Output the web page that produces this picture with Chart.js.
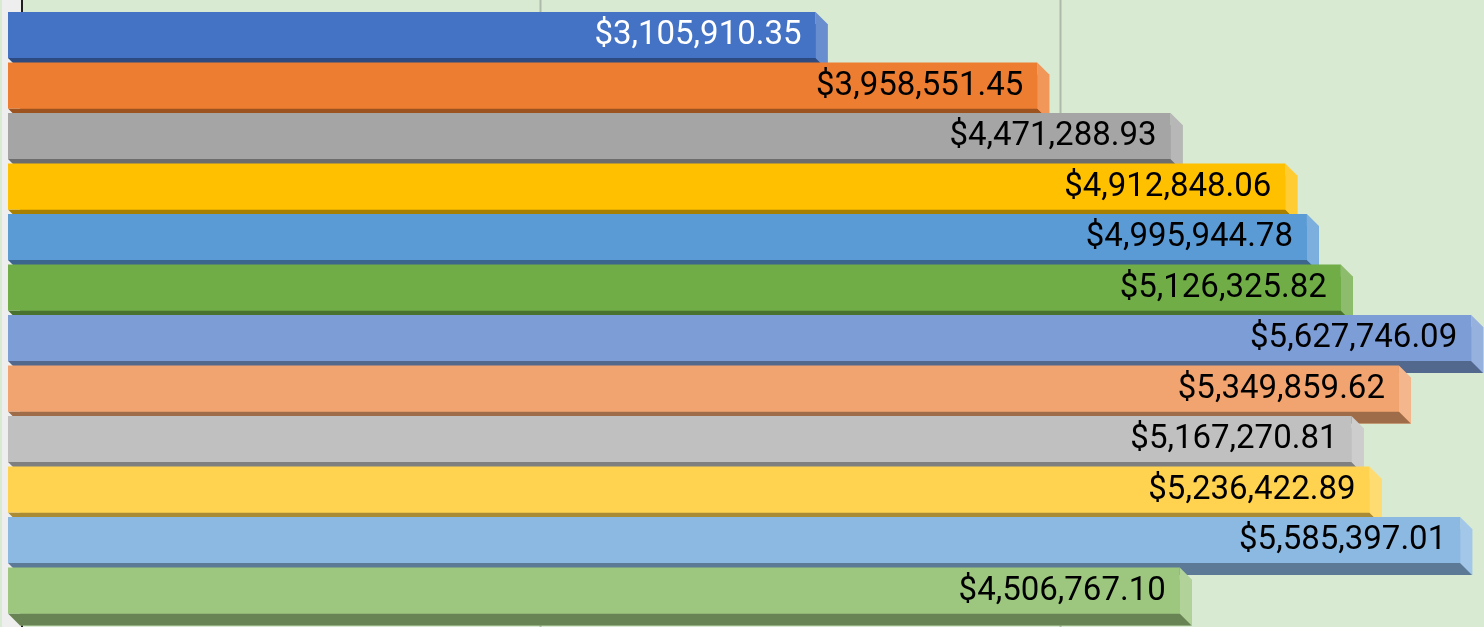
<!DOCTYPE html>
<html>
<head>
<meta charset="utf-8">
<script src="https://cdn.jsdelivr.net/npm/chart.js@4"></script>
<style>
  html, body { margin: 0; padding: 0; overflow: hidden; background: #d9ead3; }
  #wrap { width: 1484px; height: 628px; }
</style>
</head>
<body>
<div id="wrap"><canvas id="myChart" width="1484" height="628"></canvas></div>
<script>
// categories (axis labels are cropped out of the picture)
const months = ['Jan', 'Feb', 'Mar', 'Apr', 'May', 'Jun', 'Jul', 'Aug', 'Sep', 'Oct', 'Nov', 'Dec'];

// sales per month
const sales = [3105910.35, 3958551.45, 4471288.93, 4912848.06, 4995944.78, 5126325.82,
               5627746.09, 5349859.62, 5167270.81, 5236422.89, 5585397.01, 4506767.10];

const barColors = ['#4472c4', '#ed7d31', '#a5a5a5', '#ffc000', '#5b9bd5', '#70ad47',
                   '#7d9dd6', '#f1a46f', '#c0c0c0', '#ffd34f', '#8cb9e2', '#9dc77f'];
const labelColors = ['#ffffff', '#000000', '#000000', '#000000', '#000000', '#000000',
                     '#000000', '#000000', '#000000', '#000000', '#000000', '#000000'];

// gridline values on the value axis
const gridValues = [2000000, 4000000];

const DEPTH = 12;

function hexToRgb(hex) {
  const n = parseInt(hex.slice(1), 16);
  return [(n >> 16) & 255, (n >> 8) & 255, n & 255];
}
function lighten(hex, t) {
  const c = hexToRgb(hex).map(v => Math.round(v + (255 - v) * t));
  return 'rgb(' + c.join(',') + ')';
}
function darken(hex, t) {
  const c = hexToRgb(hex).map(v => Math.round(v * t));
  return 'rgb(' + c.join(',') + ')';
}

function money(v) {
  return '$' + v.toLocaleString('en-US', { minimumFractionDigits: 2, maximumFractionDigits: 2 });
}

// back wall, side wall, gridlines and axis line
const wallPlugin = {
  id: 'walls',
  beforeDatasetsDraw(chart) {
    const ctx = chart.ctx;
    const x = chart.scales.x;
    const h = chart.height;
    ctx.save();
    ctx.fillStyle = '#d9ead3';
    ctx.fillRect(0, 0, chart.width, h);
    const x0 = x.getPixelForValue(0);
    ctx.fillStyle = '#eeeeee';
    ctx.fillRect(2, 0, x0 - 1, h);
    ctx.lineWidth = 2;
    ctx.strokeStyle = '#adbaa9';
    gridValues.forEach(v => {
      const px = Math.round(x.getPixelForValue(v)) + 0.5;
      ctx.beginPath();
      ctx.moveTo(px, 0);
      ctx.lineTo(px, h);
      ctx.stroke();
    });
    ctx.strokeStyle = '#1f1f1f';
    ctx.beginPath();
    ctx.moveTo(x0 + 2, 0);
    ctx.lineTo(x0 + 2, h);
    ctx.stroke();
    ctx.restore();
  }
};

// 3d faces and value labels drawn on top of the library bars
const boxPlugin = {
  id: 'boxes',
  afterDatasetsDraw(chart) {
    const ctx = chart.ctx;
    const meta = chart.getDatasetMeta(0);
    ctx.save();
    meta.data.forEach((bar, i) => {
      const p = bar.getProps(['x', 'y', 'base', 'height'], true);
      const left = p.base, right = p.x;
      const top = p.y - p.height / 2, bottom = p.y + p.height / 2;
      const d = DEPTH;
      const col = barColors[i];

      // bottom face
      ctx.fillStyle = darken(col, 0.66);
      ctx.beginPath();
      ctx.moveTo(left - d, bottom - d);
      ctx.lineTo(right - d, bottom - d);
      ctx.lineTo(right, bottom);
      ctx.lineTo(left, bottom);
      ctx.closePath();
      ctx.fill();

      // right face
      ctx.fillStyle = lighten(col, 0.2);
      ctx.beginPath();
      ctx.moveTo(right - d, top - d);
      ctx.lineTo(right, top);
      ctx.lineTo(right, bottom);
      ctx.lineTo(right - d, bottom - d);
      ctx.closePath();
      ctx.fill();

      // front face
      ctx.fillStyle = col;
      ctx.fillRect(left - d, top - d, right - left, bottom - top);

      // label
      ctx.fillStyle = labelColors[i];
      ctx.font = '33px Roboto';
      ctx.textAlign = 'right';
      ctx.textBaseline = 'middle';
      ctx.fillText(money(sales[i]), right - d - 14, p.y - d + 1);
    });
    ctx.restore();
  }
};

function drawChart() {
  const ctx = document.getElementById('myChart');
  new Chart(ctx, {
    type: 'bar',
    data: {
      labels: months,
      datasets: [{
        label: 'Sales',
        data: sales,
        backgroundColor: barColors,
        borderWidth: 0,
        categoryPercentage: 1,
        barPercentage: 0.911
      }]
    },
    options: {
      indexAxis: 'y',
      responsive: false,
      animation: false,
      events: [],
      layout: { padding: { left: 20, right: 0, top: 21.75, bottom: 0.25 } },
      plugins: {
        legend: { display: false },
        tooltip: { enabled: false }
      },
      scales: {
        x: { display: false, min: 0, max: 5630769 },
        y: { display: false }
      }
    },
    plugins: [wallPlugin, boxPlugin]
  });
}

if (document.fonts && document.fonts.load) {
  document.fonts.load('33px Roboto').then(drawChart, drawChart);
} else {
  drawChart();
}
</script>
</body>
</html>
